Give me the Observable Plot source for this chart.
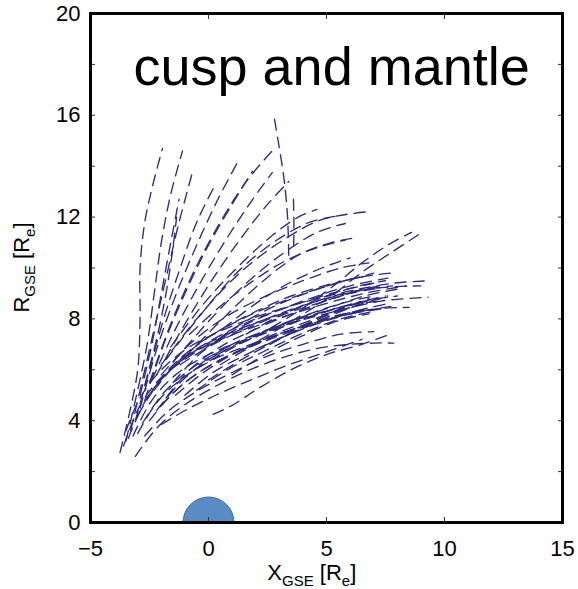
<!DOCTYPE html>
<html>
<head>
<meta charset="utf-8">
<script src="https://cdn.jsdelivr.net/npm/d3@7"></script>
<script src="https://cdn.jsdelivr.net/npm/@observablehq/plot@0.6"></script>
<style>
  html, body { margin: 0; padding: 0; background: #fff; }
  #chart { width: 578px; height: 589px; }
</style>
</head>
<body>
<div id="chart"></div>
<script>
// ---- Data ----
const titleText = "cusp and mantle";
const xTicks = [-5, 0, 5, 10, 15];
const yLabelTicks = [0, 4, 8, 12, 16, 20];
const yMinorTicks = [0, 2, 4, 6, 8, 10, 12, 14, 16, 18, 20];
const earth = [{x: 0, r: 0}];

// steep trajectories on the left side
const steepTracks = [
  [[-3.75,2.75],[-3.35,4.3],[-3.0,6.0],[-2.9,8.0],[-2.9,10.0],[-2.7,11.8],[-2.35,13.3],[-1.95,14.7]],
  [[-3.5,3.2],[-3.05,5.0],[-2.6,7.0],[-2.3,9.0],[-2.0,11.0],[-1.6,12.9],[-1.1,14.6]],
  [[-3.3,3.6],[-2.8,5.6],[-2.3,7.6],[-1.8,9.6],[-1.3,11.6],[-0.64,13.9]],
  [[-3.1,4.0],[-2.5,6.0],[-1.9,8.0],[-1.2,10.0],[-0.5,11.8],[0.3,13.3]],
  [[-2.9,5.0],[-2.4,7.0],[-2.0,9.0],[-1.6,11.0],[-1.25,12.7]],
  [[-2.7,5.4],[-2.2,7.2],[-1.8,9.0],[-1.55,10.5],[-1.35,12.0]]
];
// trajectories rising up-right to the upper middle
const upperTracks = [
  [[-2.9,4.5],[-2.2,6.8],[-1.4,8.9],[-0.5,10.9],[0.4,12.7],[1.23,14.15]],
  [[-2.7,4.8],[-1.9,7.0],[-1.0,9.0],[0.0,10.9],[1.0,12.5],[1.86,13.8]],
  [[-2.5,5.5],[-1.6,7.8],[-0.6,9.9],[0.5,11.8],[1.6,13.4],[2.7,14.6]],
  [[-2.4,5.6],[-1.4,7.6],[-0.3,9.5],[0.8,11.2],[1.8,12.6],[2.7,13.75]],
  [[-2.2,5.8],[-1.0,7.8],[0.2,9.6],[1.4,11.2],[2.5,12.5],[3.4,13.4]],
  [[3.4,10.5],[3.35,12.0],[3.2,13.5],[2.95,15.0],[2.75,16.1]],
  [[3.6,12.7],[3.62,11.6],[3.6,10.6]]
];
// medium trajectories ending near R = 11-12
const middleTracks = [
  [[-2.0,6.2],[-0.5,8.0],[1.2,9.7],[3.0,11.0],[4.8,11.9],[6.65,12.2]],
  [[-1.8,6.4],[-0.3,8.2],[1.3,9.9],[2.9,11.1],[4.3,11.8],[5.5,12.05]],
  [[-1.5,6.3],[0.0,7.9],[1.6,9.4],[3.2,10.6],[4.6,11.4],[5.8,11.75]],
  [[-1.0,6.5],[0.6,8.0],[2.2,9.4],[3.8,10.5],[5.2,11.0],[6.3,11.2]],
  [[-1.6,6.9],[-0.2,8.6],[1.2,10.0],[2.6,11.2],[3.8,12.0],[4.6,12.3]],
  [[1.5,6.8],[3.5,7.9],[5.2,8.9],[6.6,9.9],[7.9,10.7],[9.05,11.4]],
  [[2.0,7.3],[3.8,8.3],[5.3,9.3],[6.5,10.2],[7.6,10.9],[8.6,11.4]]
];
// dense bundle ending near R = 8-9.5
const denseTracks = [
  [[-3.6,3.0],[-2.9,4.6],[-2.0,5.7],[-0.8,6.6],[0.8,7.3],[2.6,7.9],[4.6,8.5],[6.6,9.0],[8.4,9.3]],
  [[-3.4,3.3],[-2.6,4.9],[-1.6,6.0],[-0.3,6.9],[1.3,7.6],[3.1,8.2],[5.0,8.8],[7.0,9.2],[9.0,9.3]],
  [[-3.2,3.4],[-2.4,4.8],[-1.4,5.8],[0.0,6.6],[1.6,7.2],[3.4,7.8],[5.4,8.3],[7.3,8.7],[9.3,8.85]],
  [[-3.0,3.5],[-2.2,4.7],[-1.2,5.6],[0.2,6.4],[1.8,7.0],[3.6,7.6],[5.5,8.1],[7.2,8.4],[8.5,8.45]],
  [[-2.8,3.9],[-1.9,5.1],[-0.8,6.0],[0.6,6.8],[2.2,7.4],[4.0,8.0],[5.8,8.5],[7.3,8.8]],
  [[-2.5,4.0],[-1.6,5.0],[-0.4,5.9],[1.0,6.6],[2.6,7.2],[4.4,7.8],[6.0,8.2],[7.4,8.4]],
  [[-2.2,4.4],[-1.2,5.5],[0.0,6.4],[1.5,7.1],[3.2,7.7],[5.0,8.3],[6.6,8.7],[8.0,8.9]],
  [[-1.8,4.9],[-0.8,6.0],[0.5,6.9],[2.0,7.6],[3.8,8.3],[5.6,8.9],[7.2,9.3]],
  [[-1.5,5.5],[-0.4,6.6],[1.0,7.5],[2.6,8.2],[4.3,8.8],[6.0,9.3],[7.6,9.6]],
  [[-2.3,5.2],[-1.2,6.4],[0.2,7.4],[1.8,8.2],[3.5,8.9],[5.3,9.4],[6.8,9.7]],
  [[-2.6,4.9],[-1.6,6.1],[-0.3,7.1],[1.2,7.9],[2.9,8.6],[4.7,9.2],[6.2,9.6],[7.7,9.8]],
  [[-1.0,5.0],[0.2,5.9],[1.6,6.6],[3.2,7.3],[4.9,7.9],[6.5,8.3],[7.8,8.5]],
  [[-0.5,5.2],[0.8,6.0],[2.3,6.7],[3.9,7.4],[5.6,8.0],[7.0,8.3]],
  [[0.0,5.6],[1.4,6.4],[3.0,7.2],[4.6,7.9],[6.2,8.5],[7.6,8.9]],
  [[-3.0,4.2],[-2.1,5.5],[-1.0,6.5],[0.4,7.3],[2.0,8.0],[3.8,8.6],[5.6,9.1],[7.0,9.4]],
  [[-2.0,5.8],[-0.8,7.0],[0.6,8.0],[2.2,8.8],[4.0,9.5],[5.6,10.0],[6.8,10.2]],
  [[-3.5,3.6],[-2.9,4.9],[-2.0,6.0],[-0.8,6.9],[0.7,7.6],[2.4,8.2],[4.2,8.7],[6.0,9.1],[7.8,9.4],[9.4,9.5]],
  [[-1.2,6.2],[0.2,7.0],[1.8,7.7],[3.4,8.3],[5.0,8.9],[6.4,9.3],[7.5,9.5]],
  [[-0.6,6.0],[0.9,6.8],[2.4,7.5],[4.0,8.1],[5.6,8.6],[7.0,8.9]],
  [[0.5,6.2],[2.0,7.0],[3.6,7.6],[5.2,8.2],[6.6,8.6]],
  [[1.0,5.8],[2.4,6.6],[3.9,7.3],[5.4,7.9],[6.8,8.2]],
  [[-2.0,4.6],[-1.0,5.5],[0.3,6.3],[1.9,7.0],[3.6,7.6],[5.3,8.1],[6.8,8.4]],
  [[-1.4,5.0],[-0.2,5.9],[1.2,6.7],[2.8,7.4],[4.5,8.0],[6.2,8.6],[7.5,8.9]],
  [[-0.2,6.8],[1.2,7.7],[2.8,8.5],[4.4,9.1],[5.8,9.5],[7.0,9.8]],
  [[0.6,7.6],[2.0,8.6],[3.4,9.4],[4.8,10.0],[6.0,10.4]],
  [[-0.8,7.4],[0.5,8.5],[1.9,9.5],[3.3,10.3],[4.6,10.8],[5.8,11.1]],
  [[-1.6,6.0],[-0.2,6.9],[1.4,7.6],[3.0,8.2],[4.6,8.7],[6.2,9.1],[7.8,9.3]],
  [[0.4,6.6],[1.8,7.3],[3.4,7.9],[5.0,8.4],[6.6,8.9],[8.2,9.2]],
  [[-0.4,6.2],[1.0,7.0],[2.6,7.6],[4.2,8.1],[5.8,8.5],[7.2,8.7]],
  [[2.0,6.8],[3.4,7.4],[4.8,7.9],[6.2,8.3],[7.6,8.6]],
  [[1.6,7.4],[3.0,8.1],[4.6,8.6],[6.0,9.0],[7.2,9.2]],
  [[2.6,7.0],[4.0,7.7],[5.4,8.3],[6.8,8.8]]
];
// lowest trajectories ending near R = 7
const lowerTracks = [
  [[-3.1,2.6],[-2.2,3.7],[-1.2,4.5],[0.0,5.2],[1.5,5.9],[3.2,6.5],[5.0,6.9],[7.0,7.05],[7.85,7.05]],
  [[0.2,4.25],[1.0,4.6],[2.0,5.2],[3.5,6.0],[5.0,6.6],[6.5,7.0],[7.7,7.4]],
  [[-2.0,3.85],[-1.0,4.4],[0.3,5.0],[1.8,5.6],[3.4,6.2],[5.0,6.7],[6.5,7.2]],
  [[-2.7,3.4],[-1.8,4.3],[-0.6,5.1],[0.8,5.8],[2.4,6.5],[4.0,7.0],[5.6,7.4],[7.0,7.5]]
];

// ---- Build rows for Plot ----
const allTracks = [...steepTracks, ...upperTracks, ...middleTracks, ...denseTracks, ...lowerTracks];
const rows = allTracks.flatMap((pts, i) => pts.map(([x, r]) => ({id: i, x, r})));

const lineColor = "#2f2a7c";
const font = "'Liberation Sans', Arial, Helvetica, sans-serif";

const plot = Plot.plot({
  width: 578,
  height: 589,
  marginLeft: 90,
  marginRight: 16,
  marginTop: 13,
  marginBottom: 67,
  style: {fontFamily: font, fontSize: "22px", color: "#000", background: "#fff"},
  x: {domain: [-5, 15]},
  y: {domain: [0, 20]},
  marks: [
    Plot.dot(earth, {x: "x", y: "r", r: 25.5, fill: "#5b8bc4", stroke: "#42699a", strokeWidth: 1, clip: true}),
    Plot.line(rows, {x: "x", y: "r", z: "id", stroke: lineColor, strokeWidth: 1.35,
      strokeDasharray: "11,7", curve: "catmull-rom"}),
    Plot.text([titleText], {frameAnchor: "top-left", dx: 43, dy: 33, lineAnchor: "top",
      textAnchor: "start", fontSize: 54, fill: "#000"}),
    // tick labels
    Plot.axisX(xTicks, {anchor: "bottom", tickSize: 0, tickPadding: 18, fontSize: 22, label: null}),
    Plot.axisY(yLabelTicks, {anchor: "left", tickSize: 0, tickPadding: 10, fontSize: 22, label: null}),
    // inward ticks on all four sides
    Plot.axisX(xTicks, {anchor: "bottom", tickSize: -5, tickFormat: () => "", label: null, stroke: "#333"}),
    Plot.axisX(xTicks, {anchor: "top", tickSize: -5, tickFormat: () => "", label: null, stroke: "#333"}),
    Plot.axisY(yMinorTicks, {anchor: "left", tickSize: -5, tickFormat: () => "", label: null, stroke: "#333"}),
    Plot.axisY(yMinorTicks, {anchor: "right", tickSize: -5, tickFormat: () => "", label: null, stroke: "#333"}),
    Plot.frame({stroke: "#000", strokeWidth: 3})
  ]
});

document.getElementById("chart").appendChild(plot);

const svg = d3.select(plot);
const xs = plot.scale("x"), ys = plot.scale("y");

// clip the Earth disc to the plotting area (upper half only)
const x0 = xs.apply(-5), x1 = xs.apply(15), y0 = ys.apply(20), y1 = ys.apply(0);
svg.insert("defs", ":first-child").append("clipPath").attr("id", "frameClip")
  .append("rect").attr("x", x0).attr("y", y0).attr("width", x1 - x0).attr("height", y1 - y0);
svg.selectAll("g[aria-label='dot']").attr("clip-path", "url(#frameClip)");

// ---- Axis titles with subscripts ----
const xl = svg.append("text")
  .attr("x", xs.apply(4.4)).attr("y", 580)
  .attr("text-anchor", "middle")
  .attr("font-family", font).attr("font-size", 22).attr("fill", "#000");
xl.append("tspan").text("X");
xl.append("tspan").attr("font-size", 15).attr("dy", 6).text("GSE");
xl.append("tspan").attr("dy", -6).text(" [R");
xl.append("tspan").attr("font-size", 15).attr("dy", 6).text("e");
xl.append("tspan").attr("dy", -6).text("]");

const yl = svg.append("text")
  .attr("transform", `translate(29,${ys.apply(10.0)}) rotate(-90)`)
  .attr("text-anchor", "middle")
  .attr("font-family", font).attr("font-size", 22).attr("fill", "#000");
yl.append("tspan").text("R");
yl.append("tspan").attr("font-size", 15).attr("dy", 6).text("GSE");
yl.append("tspan").attr("dy", -6).text(" [R");
yl.append("tspan").attr("font-size", 15).attr("dy", 6).text("e");
yl.append("tspan").attr("dy", -6).text("]");
</script>
</body>
</html>
